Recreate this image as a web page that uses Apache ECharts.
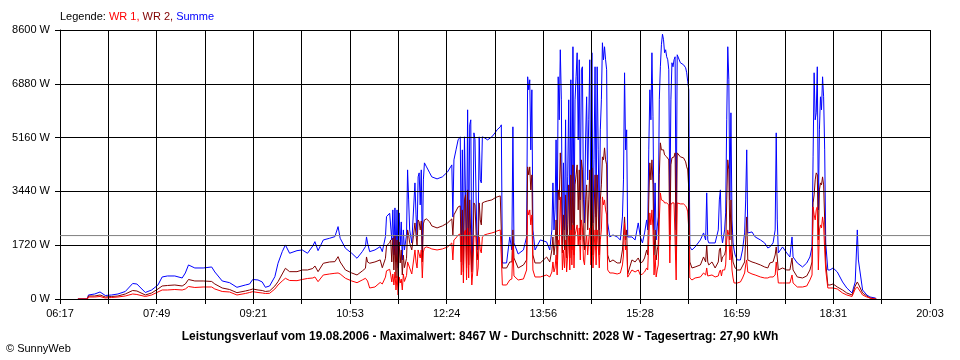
<!DOCTYPE html>
<html><head><meta charset="utf-8">
<script src="https://cdn.jsdelivr.net/npm/echarts@6/dist/echarts.min.js"></script>
<style>html,body{margin:0;padding:0;background:#fff}#c{width:960px;height:360px}</style>
</head><body><div id="c"></div>
<script>
// ---- data (time in minutes after midnight, power in W) ----
const startTime = '06:17';
const endTime = '20:03';
const xTickLabels = ['06:17','07:49','09:21','10:53','12:24','13:56','15:28','16:59','18:31','20:03'];
const times = [394,403,404,410,415,420,426,432,439,446,450,458,464,470,474,479,486,493,496,499,505,513,521,524,531,538,545,553,557,560,565,569,572,576,581,584,588,591,595,602,607,612,617,619,622,627,633,638,641,643,648,654,659,664,667,668,669,671,676,681,683,686,687,690,691,692,693,694,695,696,697,698,699,700,701,702,703,704,705,706,707,708,709,711,712,714,715,716,717,718,719,720,721,722,723,725,728,730,735,740,745,749,750,751,753,755,757,758,759,760,761,762,763,764,765,766,767,768,769,770,771,772,773,774,775,776,777,778,780,783,787,790,792,795,796,797,801,804,806,807,808,812,817,820,821,822,823,824,825,826,828,833,839,842,844,845,846,847,848,849,850,851,852,853,854,855,856,857,858,859,860,861,862,863,864,865,866,867,868,869,870,871,872,873,874,875,876,877,878,879,880,881,882,883,884,885,886,887,888,889,890,891,892,893,894,895,896,897,899,902,906,909,911,912,913,914,915,916,920,923,926,928,930,932,934,935,936,937,938,939,940,941,942,943,944,945,946,947,948,949,950,951,952,953,954,955,956,957,958,959,960,961,962,963,966,969,971,972,973,974,975,977,980,985,988,990,991,992,993,996,999,1002,1003,1004,1005,1006,1008,1009,1010,1011,1012,1013,1014,1015,1016,1017,1018,1020,1023,1025,1027,1028,1029,1030,1034,1037,1042,1046,1049,1051,1054,1056,1057,1058,1059,1063,1067,1070,1072,1073,1077,1082,1086,1089,1091,1092,1093,1094,1095,1096,1097,1098,1099,1100,1101,1102,1103,1104,1106,1108,1111,1115,1120,1124,1129,1132,1134,1135,1139,1143,1146,1151,1152];
const summe = [0,0,128,160,224,112,128,160,240,496,480,208,288,448,704,736,736,672,832,1088,992,992,1024,864,576,522,374,448,480,624,608,544,374,416,714,1142,1514,1728,1462,1546,1568,1462,1696,1834,1546,1888,1942,1994,2314,1942,1622,1462,1302,1514,1674,1984,1792,1514,1568,1674,1514,1994,2634,2742,2784,1888,2848,1408,2912,1184,2848,992,2752,1728,2464,1248,2208,1568,1568,2048,4128,3168,2208,1792,1792,3712,2688,1984,3904,4032,3008,4128,1504,3808,4352,4224,4032,3904,3840,3904,4064,4288,2624,4448,4768,5088,5184,1664,4768,1088,5184,5184,1408,6048,1664,5568,5728,928,1984,5312,5088,5088,1568,2208,5184,3808,3712,5184,5152,5088,5184,5312,5408,5504,5568,1152,1152,1984,1568,5504,1792,1440,1568,1984,7104,6688,7008,4768,6688,2208,1568,1888,1824,1568,2208,3712,2208,2848,5088,1888,7104,5728,7968,6368,1792,4352,2208,5728,1984,3904,6368,2208,7008,2432,8064,2208,6368,7104,7872,5088,7648,3168,7328,7424,3168,2432,5088,6464,3808,5728,7648,2528,7872,2432,4448,7424,2624,7424,4768,2208,5408,6368,8192,7648,8064,7648,7328,2432,1984,2048,1984,1888,2624,3808,7232,4768,5408,1984,1984,1888,2432,1984,1792,2112,2528,2208,4768,6688,5728,7872,5824,2208,3712,1888,2304,2624,6368,7424,8128,8467,8288,7872,7968,7744,7648,7328,2848,6368,7552,7424,7648,7744,2208,7808,7552,7488,7392,7232,6944,6688,1664,1568,1664,1888,2112,1888,3392,1888,1792,1792,1792,2208,3168,3488,2048,1792,2208,2752,5728,8064,7008,3168,5952,2528,1792,1568,1408,1248,1248,1568,2112,3168,4768,2112,2144,1984,1888,1792,1632,1664,1792,2208,5312,2528,1472,1664,1472,1344,1984,1344,1152,1024,1152,1344,1664,4544,7232,5728,5952,7424,2848,5408,6464,6048,7104,6464,4768,1792,928,928,992,864,544,352,192,544,2208,1248,288,128,64,32,0];
const wr2 = [0,0,96,96,128,64,80,96,160,272,256,128,192,320,416,432,448,416,480,624,576,576,560,480,352,304,202,256,288,320,288,272,240,256,416,554,800,982,874,874,928,928,976,1056,874,1142,1184,1194,1354,1184,928,832,768,896,982,1344,1184,1142,1184,1250,1000,1300,1700,1800,1888,1184,1952,928,2016,672,1888,448,1824,1152,1568,768,1400,1000,1000,1300,2208,2048,1792,1568,1568,2432,2048,1728,2528,2464,2208,2496,1184,2400,2528,2560,2464,2336,2272,2336,2432,2560,2048,2688,2816,2944,2976,1184,2848,864,3168,3328,992,3488,1088,3168,3168,864,1568,3072,3008,3040,1248,1632,3072,2528,2368,3072,3104,3136,3168,3232,3264,3296,3296,992,992,1184,1184,2208,1312,992,1088,1248,4224,3968,4224,3488,3968,1408,1152,1152,1344,1184,1568,1984,1408,1728,2528,1248,3488,3168,4672,3808,1472,2688,1568,3328,1312,2368,3648,1312,3968,1568,4288,1408,3648,3968,4288,2848,4128,1888,4448,4128,1888,1568,3168,3648,2208,3168,4128,1568,4192,1408,2688,3968,1568,3968,2848,1408,3168,3648,4544,4448,4832,4448,4288,1408,1184,1248,1152,1152,1568,2048,2624,1888,2208,800,1248,1184,1312,1152,1184,1312,1568,1408,3168,4352,3808,4448,3648,1408,2208,1248,1568,1728,3968,4992,4768,4768,4768,4608,4608,4544,4512,4448,1888,4288,4512,4512,4544,4672,1248,4672,4544,4512,4384,4224,4128,3488,1184,992,1024,1088,1344,1184,1728,1184,1088,1184,992,1184,1568,1632,1184,1344,1408,1568,3168,4448,4128,1888,3168,1568,1184,1152,992,928,928,1056,1184,1888,2624,1248,1184,1152,1088,1024,992,1152,1184,1408,1664,1312,928,992,928,928,1312,928,704,672,736,928,1184,3072,3328,3808,4032,3968,1888,3488,3712,3648,3904,3648,2528,1184,448,448,480,384,288,192,128,416,544,480,192,96,32,0,0];
const wr1 = [0,0,64,64,80,32,48,64,96,160,144,80,128,224,288,288,304,288,320,400,368,384,384,320,240,224,128,176,208,234,208,192,176,182,320,448,576,662,592,586,624,656,672,704,554,768,800,822,832,800,662,576,522,608,662,672,576,352,384,530,480,700,900,950,768,544,800,448,864,288,736,128,704,512,640,288,800,560,560,750,1184,1088,992,800,800,1568,1184,992,1568,1536,1312,1568,672,1504,1632,1664,1632,1600,1568,1600,1664,1792,1248,1888,1952,2048,2080,768,2016,512,2144,2208,608,2272,672,2144,2144,448,928,2016,1984,1984,736,992,1984,1568,1472,1984,2048,2080,2112,2144,2176,2208,2208,448,448,608,640,1728,736,608,640,928,2848,2688,2848,2368,2688,928,704,704,768,704,864,1184,864,992,1408,768,1888,1728,3264,2368,928,1568,992,1888,864,1408,2048,928,2208,1088,2368,992,2048,2208,2368,1728,2272,1248,2528,2272,1248,1088,1728,2048,1408,1888,2272,1088,2336,992,1568,2208,1088,2208,1728,992,1888,2208,3264,3008,3168,2848,2688,928,832,832,800,832,1088,1408,2432,1568,1728,700,928,864,928,768,800,864,992,928,1888,2752,2368,2848,2208,768,1408,704,928,1088,2528,3392,3168,3168,3136,3072,3072,3072,3072,3008,1152,3008,3072,3072,3072,3104,608,3072,3040,3040,2976,2912,2784,2208,672,608,672,704,832,768,992,736,704,768,704,736,864,928,736,928,928,1088,1888,2208,2048,1248,1728,928,672,512,544,512,544,672,832,1088,1248,864,800,768,704,672,672,704,704,768,1184,864,512,512,512,512,768,512,384,384,416,608,768,2944,2688,2528,2848,2944,928,2208,2368,2272,2624,2368,1568,928,352,352,352,320,192,128,80,320,384,352,128,64,32,0,0];
const averageW = 2028;          // Durchschnitt
const yMax = 8600;
const yStep = 1720;
const legendPrefix = 'Legende: ';
const seriesNames = ['WR 1', 'WR 2', 'Summe'];
const footerText = 'Leistungsverlauf vom 19.08.2006 - Maximalwert: 8467 W - Durchschnitt: 2028 W - Tagesertrag: 27,90 kWh';
const copyrightText = '\u00A9 SunnyWeb';

// ---- build ----
function toMin(s){const p=s.split(':');return (+p[0])*60+(+p[1]);}
const t0 = toMin(startTime), t1 = toMin(endTime);
const COLS = 18;           // grid columns (a label on every second one)
const SCALE = 9;           // axis units per minute (column width becomes a whole number)
const span = (t1 - t0) * SCALE;
const step = span / COLS;
const xOf = t => (t - t0) * SCALE;
const mk = arr => times.map((t, i) => [xOf(t), arr[i]]);

const FONT = 'Liberation Sans, Arial, sans-serif';
const rs = c => ({color: c, fontSize: 11, fontWeight: 'normal', fontFamily: FONT});
const chart = echarts.init(document.getElementById('c'), null, {renderer: 'canvas'});
chart.setOption({
  animation: false,
  backgroundColor: '#ffffff',
  textStyle: {fontFamily: FONT},
  title: [
    {left: 60, top: 11, padding: 0, text: '{k|' + legendPrefix + '}{a|' + seriesNames[0] + ', }{b|' + seriesNames[1] + ', }{c|' + seriesNames[2] + '}',
     textStyle: {fontSize: 11, fontWeight: 'normal', fontFamily: FONT, rich: {
       k: rs('#000'), a: rs('#ff0000'), b: rs('#800000'), c: rs('#0000ff')}}},
    {left: 'center', top: 331, padding: 0, text: footerText,
     textStyle: {fontSize: 12, fontWeight: 'bold', color: '#000', fontFamily: FONT}},
    {left: 6, top: 343, padding: 0, text: copyrightText,
     textStyle: {fontSize: 11, fontWeight: 'normal', color: '#000', fontFamily: FONT}}
  ],
  grid: {left: 60, right: 30, top: 30, bottom: 61},
  xAxis: {
    type: 'value', min: 0, max: span, interval: step, z: 10,
    axisLine: {show: true, onZero: false, lineStyle: {color: '#000', width: 1}},
    axisTick: {show: true, length: 5, lineStyle: {color: '#000', width: 1}},
    splitLine: {show: true, lineStyle: {color: '#000', width: 1}},
    axisLabel: {color: '#000', fontSize: 11, fontFamily: FONT, margin: 9, showMinLabel: true, showMaxLabel: true,
      formatter: v => { const k = Math.round(v / step); return k % 2 ? '' : (xTickLabels[k / 2] || ''); }}
  },
  yAxis: {
    type: 'value', min: 0, max: yMax, interval: yStep, z: 10,
    axisLine: {show: true, lineStyle: {color: '#000', width: 1}},
    axisTick: {show: true, length: 5, lineStyle: {color: '#000', width: 1}},
    splitLine: {show: true, lineStyle: {color: '#000', width: 1}},
    axisLabel: {color: '#000', fontSize: 11, fontFamily: FONT, margin: 10, formatter: v => v + ' W'}
  },
  series: [
    {name: seriesNames[2], type: 'line', data: mk(summe), symbol: 'none', z: 2,
     lineStyle: {color: '#0000ff', width: 1}, itemStyle: {color: '#0000ff'}},
    {name: seriesNames[1], type: 'line', data: mk(wr2), symbol: 'none', z: 3,
     lineStyle: {color: '#800000', width: 1}, itemStyle: {color: '#800000'}},
    {name: seriesNames[0], type: 'line', data: mk(wr1), symbol: 'none', z: 4,
     lineStyle: {color: '#ff0000', width: 1}, itemStyle: {color: '#ff0000'}},
    {name: 'Durchschnitt', type: 'line', data: [[0, averageW], [span, averageW]], symbol: 'none', z: 12, silent: true,
     lineStyle: {color: '#808080', width: 1}, itemStyle: {color: '#808080'}}
  ]
});
</script>
</body></html>
